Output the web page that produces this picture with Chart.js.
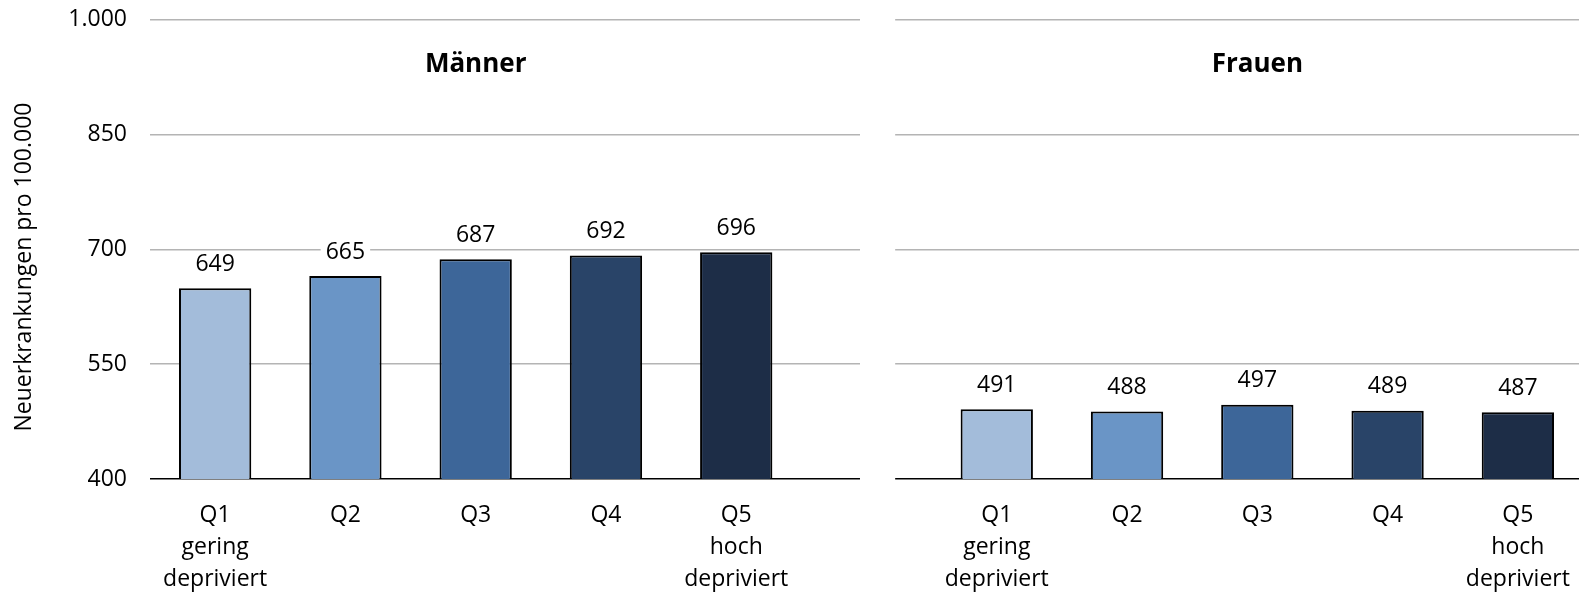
<!DOCTYPE html>
<html>
<head>
<meta charset="utf-8">
<script src="https://cdn.jsdelivr.net/npm/chart.js@4/dist/chart.umd.min.js"></script>
<style>
  html, body { margin: 0; padding: 0; background: #fff; overflow: hidden; }
  #wrap { position: relative; width: 1579px; height: 593px; overflow: hidden; }
  #box { position: absolute; left: 0; top: 0; width: 1600px; height: 593px; }
</style>
</head>
<body>
<div id="wrap"><div id="box"><canvas id="c"></canvas></div></div>
<script>
// Neuerkrankungen pro 100.000 nach Deprivationsquintil
const quintile = [['Q1', 'gering', 'depriviert'], ['Q2'], ['Q3'], ['Q4'], ['Q5', 'hoch', 'depriviert']];
const maenner = [649, 665, 687, 692, 696];
const frauen = [491, 488, 497, 489, 487];
const panelTitles = ['Männer', 'Frauen'];
const yAxisTitle = 'Neuerkrankungen pro 100.000';
const quintileColors = ['#A3BCDA', '#6A95C6', '#3D6699', '#294468', '#1D2D47'];
const yTicks = [400, 550, 700, 850, 1000];

// Both panels share one category axis with an empty slot between them
const labels = [...quintile, '', ...quintile];
const values = [...maenner, null, ...frauen];
const colors = [...quintileColors, 'rgba(0,0,0,0)', ...quintileColors];

const FONT = '"Open Sans", "DejaVu Sans", sans-serif';

const panelGap = {
  id: 'panelGap',
  beforeDatasetsDraw(chart) {
    const x = chart.scales.x, area = chart.chartArea, ctx = chart.ctx;
    const mid = x.getPixelForValue(5);
    const w = x.getPixelForValue(1) - x.getPixelForValue(0);
    ctx.save();
    ctx.fillStyle = '#fff';
    ctx.fillRect(mid - 0.05 * w, area.top - 3, 0.27 * w, area.bottom - area.top + 6);
    ctx.restore();
  }
};

const panelHeads = {
  id: 'panelHeads',
  afterDraw(chart) {
    const x = chart.scales.x, ctx = chart.ctx;
    ctx.save();
    ctx.font = 'bold 26px ' + FONT;
    ctx.fillStyle = '#000';
    ctx.textAlign = 'center';
    ctx.textBaseline = 'middle';
    ctx.fillText(panelTitles[0], x.getPixelForValue(2), 65);
    ctx.fillText(panelTitles[1], x.getPixelForValue(8), 65);
    // vertical axis title
    ctx.font = '23px ' + FONT;
    ctx.translate(24, 267);
    ctx.rotate(-Math.PI / 2);
    ctx.fillText(yAxisTitle, 0, 0);
    ctx.restore();
  }
};

const valueLabels = {
  id: 'valueLabels',
  afterDatasetsDraw(chart) {
    const ctx = chart.ctx;
    const meta = chart.getDatasetMeta(0);
    ctx.save();
    ctx.font = '23px ' + FONT;
    ctx.textAlign = 'center';
    ctx.textBaseline = 'middle';
    meta.data.forEach((bar, i) => {
      const v = values[i];
      if (v == null) return;
      const txt = String(v);
      const cy = bar.y - 24;
      const tw = ctx.measureText(txt).width;
      ctx.fillStyle = '#fff';
      ctx.fillRect(bar.x - tw / 2 - 5, cy - 13, tw + 10, 26);
      ctx.fillStyle = '#000';
      ctx.fillText(txt, bar.x, cy);
    });
    ctx.restore();
  }
};

new Chart(document.getElementById('c'), {
  type: 'bar',
  data: {
    labels: labels,
    datasets: [{
      data: values,
      backgroundColor: colors,
      borderColor: '#000',
      borderWidth: 2,
      borderSkipped: false,
      categoryPercentage: 1,
      barPercentage: 0.555
    }]
  },
  options: {
    responsive: true,
    maintainAspectRatio: false,
    animation: false,
    locale: 'de-DE',
    layout: { padding: { top: 19.5, right: 17, left: 0, bottom: 0 } },
    plugins: { legend: { display: false }, tooltip: { enabled: false } },
    scales: {
      x: {
        grid: { display: false },
        border: { display: false },
        ticks: {
          color: '#000',
          font: { family: FONT, size: 23, lineHeight: 1.4 },
          padding: 12,
          maxRotation: 0,
          autoSkip: false
        },
        afterFit(scale) { scale.height = 114; }
      },
      y: {
        min: 400,
        max: 1000,
        afterBuildTicks(scale) { scale.ticks = yTicks.map(v => ({ value: v })); },
        border: { display: false },
        grid: {
          drawTicks: false,
          lineWidth: 1.5,
          color: ctx => ctx.tick && ctx.tick.value === 400 ? '#000' : '#B4B4B4'
        },
        ticks: {
          color: '#000',
          font: { family: FONT, size: 23 },
          padding: 23,
          callback: v => v.toLocaleString('de-DE')
        },
        afterFit(scale) {
          scale.width = 150;
          scale.paddingTop = 0;
          scale.paddingBottom = 0;
        }
      }
    }
  },
  plugins: [panelGap, valueLabels, panelHeads]
});
</script>
</body>
</html>
